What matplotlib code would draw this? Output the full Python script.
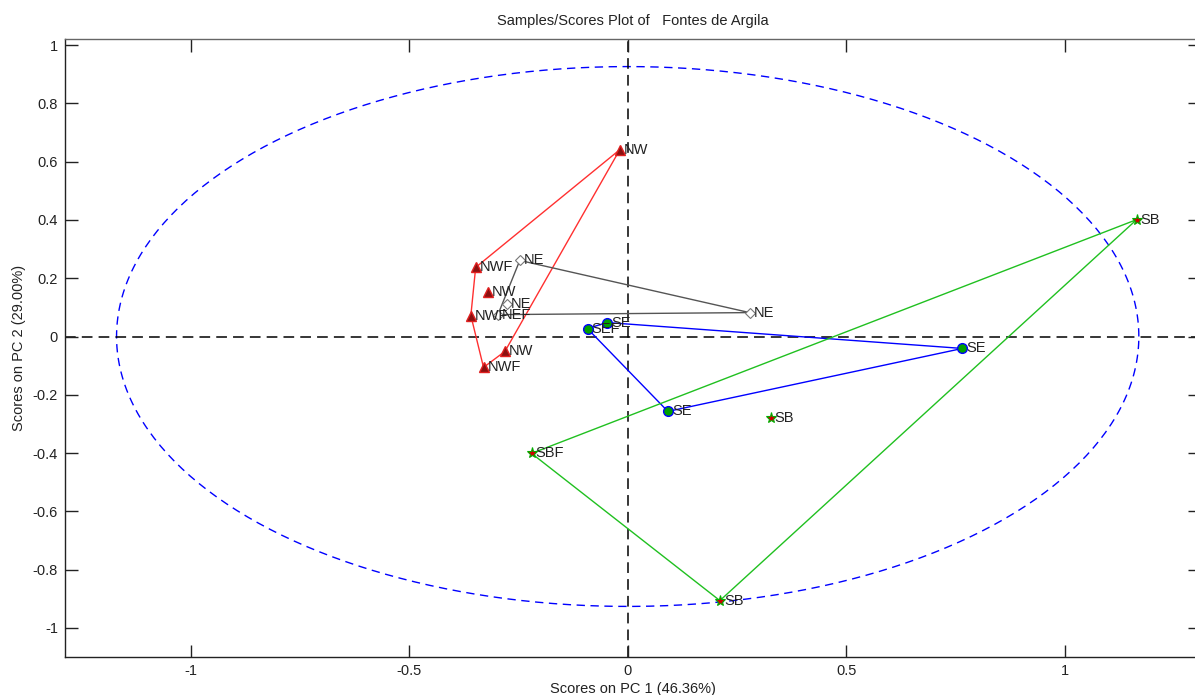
import numpy as np
import matplotlib
matplotlib.use('Agg')
import matplotlib.pyplot as plt

plt.rcParams['font.family'] = ['Liberation Sans', 'DejaVu Sans']

# scores (PC1, PC2)
nw_labels = ['NW', 'NWF', 'NW', 'NWF', 'NW', 'NWF']
nw_x = [-0.018, -0.348, -0.320, -0.359, -0.281, -0.330]
nw_y = [0.641, 0.237, 0.154, 0.072, -0.051, -0.106]
nw_hull = [0, 1, 3, 5, 4, 0]

ne_labels = ['NE', 'NE', 'NEF', 'NE']
ne_x = [-0.247, -0.277, -0.297, 0.279]
ne_y = [0.261, 0.110, 0.075, 0.082]
ne_hull = [0, 3, 2, 0]

se_labels = ['SE', 'SEF', 'SE', 'SE']
se_x = [-0.048, -0.092, 0.092, 0.766]
se_y = [0.048, 0.027, -0.257, -0.041]
se_hull = [1, 0, 3, 2, 1]

sb_labels = ['SB', 'SB', 'SBF', 'SB']
sb_x = [1.165, 0.327, -0.220, 0.211]
sb_y = [0.401, -0.279, -0.401, -0.906]
sb_hull = [2, 0, 3, 2]

ell_a, ell_b = 1.170, 0.926

fig = plt.figure(figsize=(11.95, 6.95), dpi=100)
ax = fig.add_axes([65 / 1195, 38 / 695, 1135 / 1195, 618 / 695])

t = np.linspace(0, 2 * np.pi, 400)
ax.plot(ell_a * np.cos(t), ell_b * np.sin(t), color='#0000ff', lw=1,
        dashes=(6, 4), zorder=1)
ax.axhline(0, color='black', lw=1.1, dashes=(7, 4), zorder=1)
ax.axvline(0, color='black', lw=1.1, dashes=(7, 4), zorder=1)


def group(xs, ys, labels, hull, lcolor, **mk):
    hx = [xs[i] for i in hull]
    hy = [ys[i] for i in hull]
    ax.plot(hx, hy, color=lcolor, lw=1, zorder=2)
    ax.plot(xs, ys, ls='none', zorder=3, **mk)
    for x, y, s in zip(xs, ys, labels):
        ax.annotate(s, (x, y), xytext=(3, 0), textcoords='offset points',
                    ha='left', va='center', fontsize=10.5, color='#222222',
                    zorder=4)


group(nw_x, nw_y, nw_labels, nw_hull, '#ff3030',
      marker='^', ms=7, mfc='#8b1010', mec='#e02020', mew=1)
group(ne_x, ne_y, ne_labels, ne_hull, '#555555',
      marker='D', ms=5.5, mfc='white', mec='#777777', mew=0.8)
group(se_x, se_y, se_labels, se_hull, '#0000ff',
      marker='o', ms=7, mfc='#00a000', mec='#0000ff', mew=1)
group(sb_x, sb_y, sb_labels, sb_hull, '#20c020',
      marker='*', ms=8, mfc='#cc0000', mec='#00b000', mew=0.8)

ax.set_xlim(-1.288, 1.31)
ax.set_ylim(-1.0995, 1.0206)
ax.set_xticks([-1, -0.5, 0, 0.5, 1])
ax.set_xticklabels(['-1', '-0.5', '0', '0.5', '1'])
ax.set_yticks([1, 0.8, 0.6, 0.4, 0.2, 0, -0.2, -0.4, -0.6, -0.8, -1])
ax.set_yticklabels(['1', '0.8', '0.6', '0.4', '0.2', '0', '-0.2', '-0.4',
                    '-0.6', '-0.8', '-1'])
ax.tick_params(direction='in', length=9, width=1, labelsize=10.5,
               top=True, right=True, pad=5, colors='#222222')
for sp in ax.spines.values():
    sp.set_linewidth(1)
    sp.set_color('#222222')
ax.spines['top'].set_color('#666666')

ax.set_title('Samples/Scores Plot of   Fontes de Argila', fontsize=10.5,
             pad=10, color='#222222')
ax.set_xlabel('Scores on PC 1 (46.36%)', fontsize=10.5, labelpad=3,
              color='#222222')
ax.set_ylabel('Scores on PC 2 (29.00%)', fontsize=10.5, labelpad=5,
              color='#222222')

fig.savefig('out.png', dpi=100)
